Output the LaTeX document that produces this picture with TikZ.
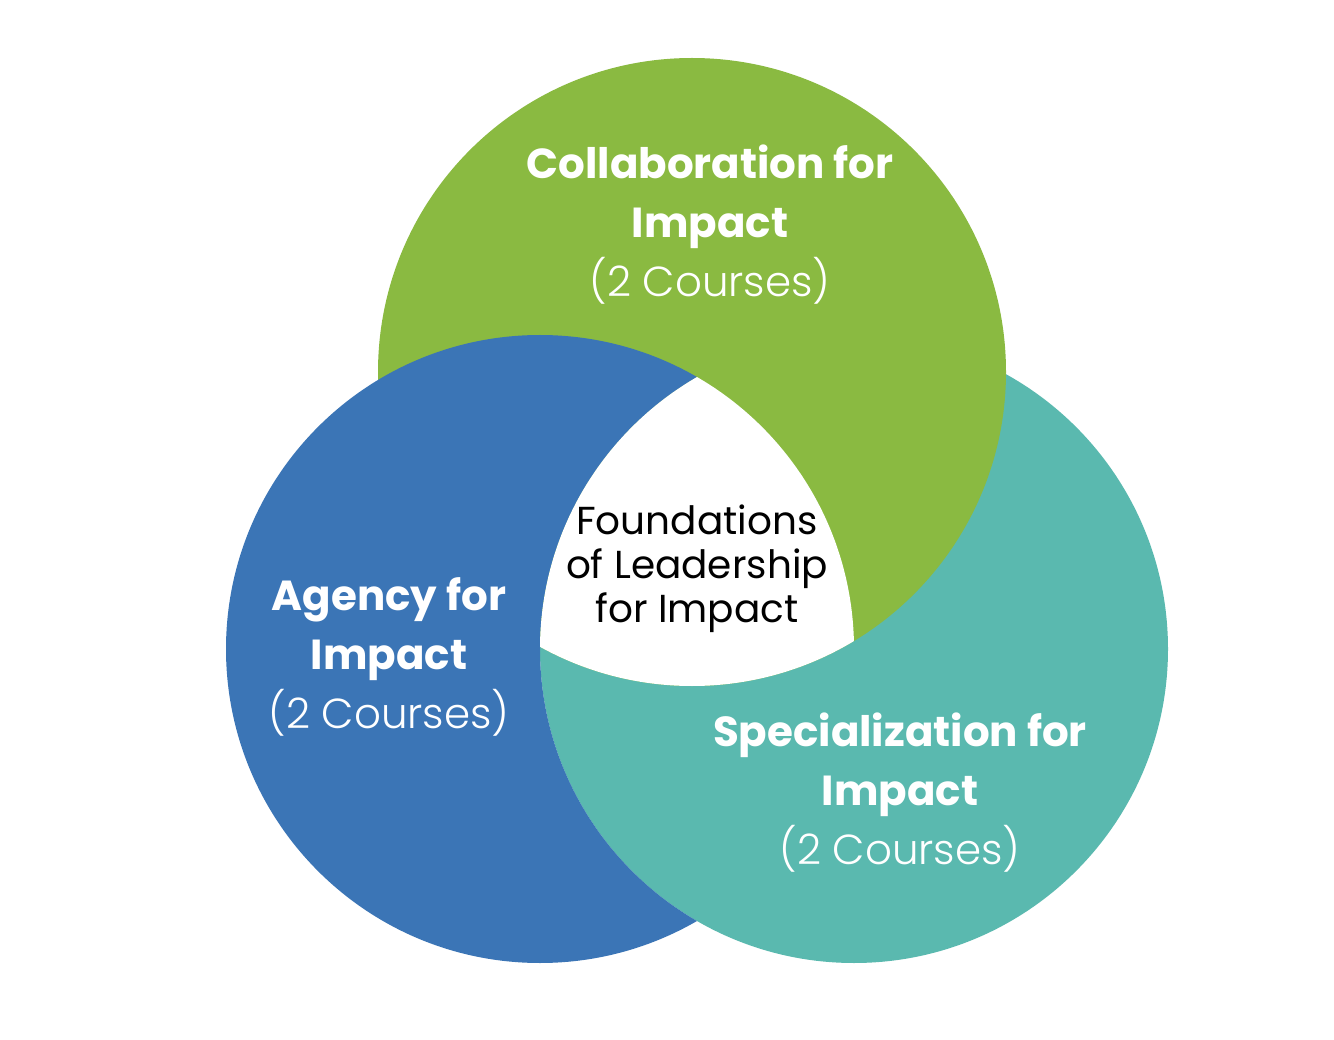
\documentclass[tikz,border=0pt]{standalone}
\usepackage{fontspec}
\setmainfont{Poppins}
\newfontfamily\lightfont{Poppins Light}
\definecolor{greenc}{HTML}{8ABA41}
\definecolor{bluec}{HTML}{3B75B6}
\definecolor{tealc}{HTML}{5AB9AF}
\tikzset{
  titletext/.style={text=white, align=center, font=\fontsize{42}{59}\selectfont\bfseries, inner sep=0pt},
  coretext/.style={text=black, align=center, font=\fontsize{39}{44}\selectfont, inner sep=0pt}
}
\begin{document}
\begin{tikzpicture}[x=1pt,y=-1pt]
\useasboundingbox (0,0) rectangle (1334,1040);
\fill[white] (0,0) rectangle (1334,1040);
\coordinate (cg) at (692,372);
\coordinate (cb) at (540,649);
\coordinate (ct) at (854,649);
\fill[tealc] (ct) circle[radius=314pt];
\fill[greenc] (cg) circle[radius=314pt];
\begin{scope}[even odd rule]
  \clip (0,0) rectangle (1334,1040) (ct) circle[radius=314pt];
  \fill[bluec] (cb) circle[radius=314pt];
\end{scope}
\begin{scope}
  \clip (cb) circle[radius=314pt];
  \clip (cg) circle[radius=314pt];
  \fill[white] (ct) circle[radius=314pt];
\end{scope}
\node[titletext] (collab) at (710,225) {Collaboration for\\Impact\\{\lightfont\mdseries (2 Courses)}};
\node[titletext] (agency) at (389,657) {Agency for\\Impact\\{\lightfont\mdseries (2 Courses)}};
\node[titletext] (spec) at (900,793) {Specialization for\\Impact\\{\lightfont\mdseries (2 Courses)}};
\node[coretext] (core) at (697,569) {Foundations\\of Leadership\\for Impact};
\end{tikzpicture}
\end{document}
